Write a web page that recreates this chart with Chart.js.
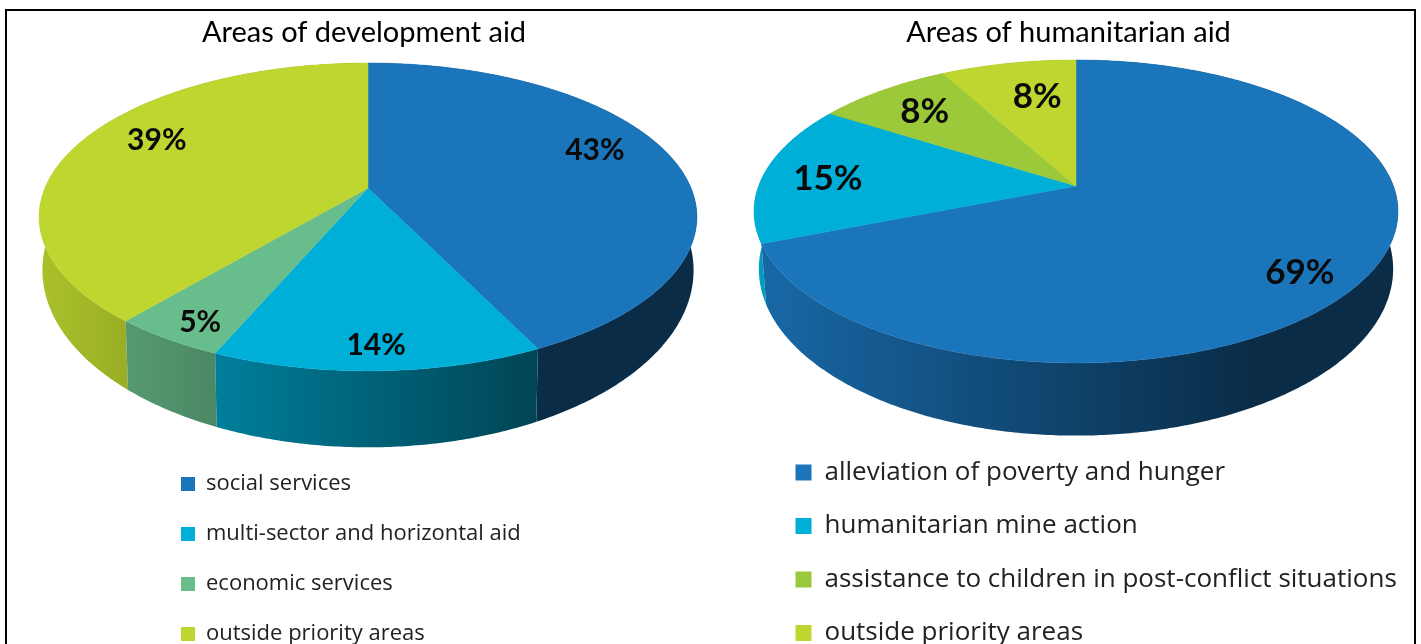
<!DOCTYPE html>
<html><head><meta charset="utf-8">
<script src="https://cdn.jsdelivr.net/npm/chart.js@4"></script>
<style>
html,body{margin:0;padding:0;background:#fff;overflow:hidden;width:1421px;height:644px}
#frame{position:absolute;left:5px;top:9px;width:1407px;height:640px;border:2px solid #000;box-sizing:content-box}
canvas{position:absolute;top:0;filter:blur(0.45px)}
#c1{left:0}#c2{left:710px}
</style></head><body>
<div id="frame"></div>
<canvas id="c1" width="710" height="644"></canvas>
<canvas id="c2" width="711" height="644"></canvas>
<script>
const devTitle = 'Areas of development aid';
const devCategories = ['social services','multi-sector and horizontal aid','economic services','outside priority areas'];
const devValues = [42.8,13.6,4.7,38.9];
const devColors = ['#1b75bb','#00afd7','#68bd8c','#bed62f'];

const humTitle = 'Areas of humanitarian aid';
const humCategories = ['alleviation of poverty and hunger','humanitarian mine action','assistance to children in post-conflict situations','outside priority areas'];
const humValues = [69,15,8,8];
const humColors = ['#1b75bb','#00afd7','#9bc93a','#bed62f'];

// Perspective projection of the unit pie on to the page
function project(g,u,v){const w=1-g.k*v;return {x:g.cx+g.a*u/w,y:g.cy+g.b*v/w};}
function rgb(hex,f){const n=parseInt(hex.slice(1),16);
  return `rgb(${Math.round((n>>16&255)*f)},${Math.round((n>>8&255)*f)},${Math.round((n&255)*f)})`;}

const pie3d = {
  id:'pie3d',
  afterLayout(chart,args,opts){
    chart.titleBlock.left+=opts.titleShift;chart.titleBlock.right+=opts.titleShift;
  },
  beforeDatasetDraw(chart,args,opts){
    const ctx=chart.ctx,g=opts.geometry,arcs=args.meta.data;
    const left=g.cx-g.a*1.02,right=g.cx+g.a*1.02;
    const rim=(a)=>project(g,Math.cos(a),Math.sin(a));
    const low=(p)=>({x:g.cx+(p.x-g.cx)*g.sx,y:g.cy+(p.y-g.cy)*g.sy+g.dy});
    // sides, back to front
    const order=arcs.map((a,i)=>i).sort((i,j)=>
      Math.sin((arcs[i].startAngle+arcs[i].endAngle)/2)-Math.sin((arcs[j].startAngle+arcs[j].endAngle)/2));
    for(const i of order){
      const arc=arcs[i],col=arc.options.backgroundColor,pts=[];
      const n=Math.max(8,Math.ceil((arc.endAngle-arc.startAngle)/0.01));
      for(let s=0;s<=n;s++) pts.push(rim(arc.startAngle+(arc.endAngle-arc.startAngle)*s/n));
      const grad=ctx.createLinearGradient(left,0,right,0);
      grad.addColorStop(0,rgb(col,0.9));grad.addColorStop(0.77,rgb(col,0.38));grad.addColorStop(1,rgb(col,0.38));
      ctx.beginPath();
      pts.forEach((p,j)=>j?ctx.lineTo(p.x,p.y):ctx.moveTo(p.x,p.y));
      pts.slice().reverse().forEach(p=>{const q=low(p);ctx.lineTo(q.x,q.y);});
      ctx.closePath();ctx.fillStyle=grad;ctx.fill();
    }
    // top faces
    arcs.forEach(arc=>{
      const n=Math.max(8,Math.ceil((arc.endAngle-arc.startAngle)/0.01));
      ctx.beginPath();ctx.moveTo(g.cx,g.cy);
      for(let s=0;s<=n;s++){const p=rim(arc.startAngle+(arc.endAngle-arc.startAngle)*s/n);ctx.lineTo(p.x,p.y);}
      ctx.closePath();
      ctx.fillStyle=arc.options.backgroundColor;ctx.strokeStyle=arc.options.backgroundColor;ctx.lineWidth=0.5;
      ctx.fill();ctx.stroke();
    });
    // value labels
    ctx.save();ctx.fillStyle='#0a0a0a';ctx.textAlign='center';ctx.textBaseline='middle';ctx.font=opts.labelFont;
    arcs.forEach((arc,i)=>{
      const a=(arc.startAngle+arc.endAngle)/2,p=project(g,0.75*Math.cos(a),0.75*Math.sin(a)),n=opts.nudge[i];
      ctx.fillText(Math.round(chart.data.datasets[0].data[i])+'%',p.x+n[0],p.y+n[1]);
    });
    ctx.restore();
    return false;
  }
};

function makeChart(id,title,cats,vals,colors,cfg){
  return new Chart(document.getElementById(id),{
    type:'pie',
    data:{labels:cats,datasets:[{data:vals,backgroundColor:colors,borderWidth:0}]},
    plugins:[pie3d],
    options:{
      responsive:false,animation:false,events:[],
      layout:{padding:cfg.padding},
      plugins:{
        tooltip:{enabled:false},
        title:{display:true,text:title,color:'#000',font:{family:'Lato',size:cfg.titleSize,weight:'normal'},padding:cfg.titlePadding},
        legend:{display:true,position:'bottom',align:'start',
          labels:{boxWidth:cfg.box,boxHeight:cfg.box,padding:cfg.legendPad,color:'#222',
            font:{family:'Open Sans',size:cfg.legendSize}}},
        pie3d:{geometry:cfg.geometry,nudge:cfg.nudge,labelFont:cfg.labelFont,titleShift:cfg.titleShift}
      }
    }
  });
}

makeChart('c1',devTitle,devCategories,devValues,devColors,{
  padding:{left:153,right:135,top:0,bottom:-11},titleSize:29,titlePadding:{top:15,bottom:10},titleShift:0,
  box:14,legendPad:28,legendSize:22,labelFont:'bold 30px Lato',
  geometry:{cx:368,cy:188,a:323,b:148.5,k:0.188,sx:0.99,sy:1.15,dy:49},
  nudge:[[-2,-13],[1,28],[-24,26],[6,-11]]
});
makeChart('c2',humTitle,humCategories,humValues,humColors,{
  padding:{left:58,right:10,top:0,bottom:-12},titleSize:29,titlePadding:{top:15,bottom:10},titleShift:-21,
  box:16,legendPad:27.5,legendSize:26,labelFont:'bold 35px Lato',
  geometry:{cx:366,cy:186,a:317.4,b:147.2,k:0.168,sx:0.985,sy:1.1,dy:55},
  nudge:[[12,20],[-14,3],[-2,-1],[14,6]]
});
</script>
</body></html>
